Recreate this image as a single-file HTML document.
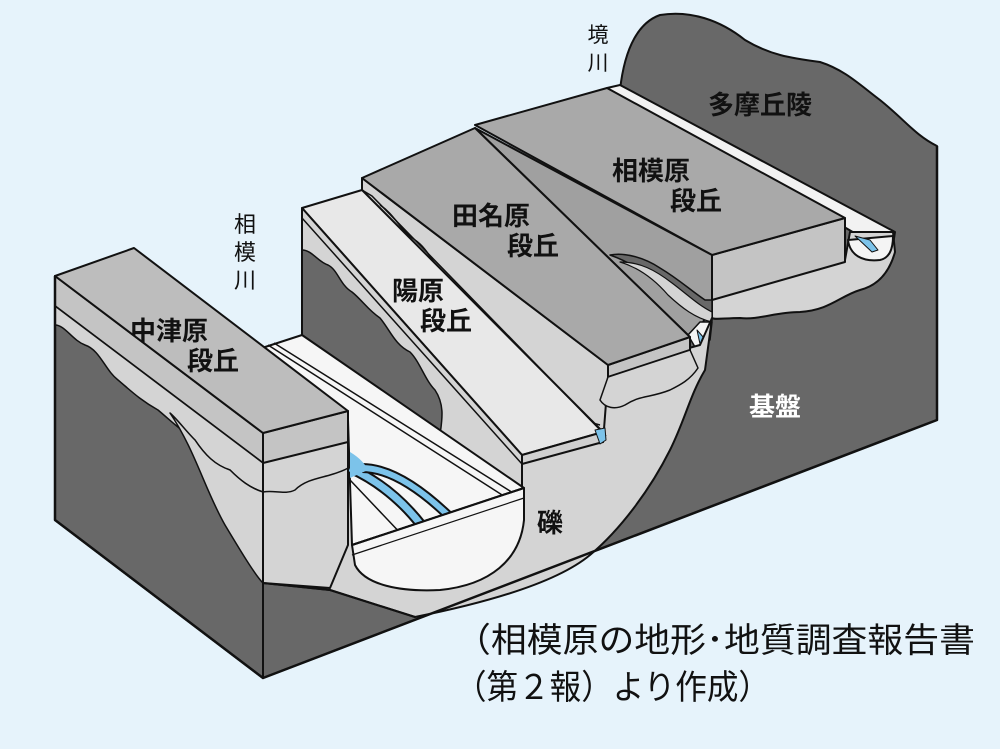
<!DOCTYPE html>
<html><head><meta charset="utf-8"><style>
html,body{margin:0;padding:0;background:#e6f3fb;}
svg{display:block}
text{font-family:"Liberation Sans","Noto Sans CJK JP",sans-serif;}
</style></head><body>
<svg width="1000" height="749" viewBox="0 0 1000 749" xmlns="http://www.w3.org/2000/svg" stroke="#111" stroke-width="2" stroke-linejoin="round">
<rect x="0" y="0" width="1000" height="749" fill="#e6f3fb" stroke="none"/>
<!-- dark base incl. Tama hills -->
<path d="M55,324 L55,520 L263,678 L937,420 L937,146 C915,135 905,120 880,100 C860,85 845,70 820,62 C790,58 770,55 745,40 C720,20 690,10 660,15 C640,22 625,45 620,90 L600,95 L560,540 Z" fill="#686868"/>
<!-- Sakai river strip -->
<path d="M607,88 L620,85 L895,232 L893,245 L880,248 Z" fill="#f2f2f2"/>
<!-- gravel under Sagamihara front + Sakai valley -->
<path d="M712,298 L845,260 L850,232 L893,232 L895,252 C890,270 880,285 860,290 C840,296 830,310 800,312 C775,312 760,320 740,318 C725,318 715,320 712,318 Z" fill="#d4d4d4"/>
<path d="M848,240 C850,255 862,262 880,260 C890,258 893,248 893,236 Z" fill="#f4f4f4"/>
<path d="M855,236 L870,240 L878,250 L872,252 Z" fill="#7cc3ea" stroke-width="1"/>
<!-- Sagamihara terrace -->
<path d="M712,255 L845,218 L845,262 L712,300 Z" fill="#c4c4c4"/>
<path d="M475,125 L607,88 L845,218 L712,255 Z" fill="#a9a9a9"/>
<!-- scarp strip between Tanabara and Sagamihara -->
<path d="M475,128 L712,255 L712,300 L700,330 L690,337 Z" fill="#a0a0a0"/>
<path d="M610,255 C630,262 650,275 665,290 C680,305 695,315 712,318 L712,300 L705,300 C690,290 680,280 660,268 C645,258 625,252 610,255 Z" fill="#686868" stroke-width="1.5"/>
<path d="M620,262 C640,268 655,280 668,295 C682,308 695,318 712,322 L712,312 C698,305 688,295 672,283 C655,270 640,262 620,262 Z" fill="#d4d4d4" stroke-width="1.2"/>
<path d="M688,335 L700,322 L712,322 L710,340 L695,347 Z" fill="#f4f4f4" stroke-width="1.5"/>
<path d="M697,330 L704,338 L700,344 Z" fill="#7cc3ea" stroke-width="1"/>
<!-- big gravel on front face right-middle -->
<path d="M520,460 L608,370 L700,345 L712,318 L705,370 C690,395 685,420 670,450 C650,490 620,530 590,555 C560,580 500,600 415,617 L330,590 L263,583 L263,463 Z" fill="#d4d4d4"/>
<!-- Tanabara left scarp face (gravel) -->
<path d="M362,178 L608,365 L608,377 L603,442 L362,190 Z" fill="#d4d4d4"/>
<path d="M380,205 C395,215 400,230 415,240 C430,250 435,270 450,280 C465,292 470,310 485,320 C500,332 505,350 520,360 C535,372 540,390 555,400 C570,410 580,420 600,425" fill="none" stroke-width="1.5"/>
<!-- Tanabara terrace -->
<path d="M608,365 L690,337 L690,350 L608,377 Z" fill="#c4c4c4"/>
<path d="M362,178 L475,128 L690,337 L608,365 Z" fill="#a9a9a9"/>
<path d="M608,377 L690,350 L698,368 C690,380 680,385 670,390 C650,398 640,395 625,405 C615,410 605,408 600,400 Z" fill="#d4d4d4" stroke-width="1.5"/>
<!-- Minbara terrace -->
<path d="M302,208 L362,190 L603,432 L522,455 Z" fill="#e8e8e8"/>
<path d="M362,190 L372,196 L606,436" fill="none" stroke-width="1.5"/>
<path d="M522,455 L603,432 L603,442 L522,464 Z" fill="#d0d0d0"/>
<path d="M595,430 L605,428 L606,440 L600,444 Z" fill="#7cc3ea" stroke-width="1"/>
<!-- left wall of Minbara block -->
<path d="M302,208 L522,455 L522,490 L302,335 Z" fill="#d4d4d4"/>
<path d="M302,218 L522,464" fill="none" stroke-width="1.5"/>
<path d="M302,250 C312,250 318,262 328,265 C338,270 340,285 352,292 C362,300 368,310 380,318 C390,330 395,345 410,352 C420,362 425,380 435,390 C445,405 442,420 440,435 L302,335 Z" fill="#686868" stroke-width="1.5"/>
<!-- Sagami river valley floor -->
<path d="M262,348 L302,335 L524,488 L352,545 L348,420 Z" fill="#f6f6f6"/>
<path d="M268,345 L510,500" fill="none" stroke-width="1.5"/>
<path d="M274,343 L518,496" fill="none" stroke-width="1.5"/>
<path d="M350,480 L405,538" fill="none" stroke-width="1.5"/>
<path d="M350,468 C372,478 398,495 422,526" fill="none" stroke="#111" stroke-width="11" stroke-linecap="butt"/>
<path d="M350,468 C372,478 398,495 422,526" fill="none" stroke="#7cc3ea" stroke-width="7"/>
<path d="M362,468 C392,468 425,492 455,522" fill="none" stroke="#111" stroke-width="10"/>
<path d="M362,468 C392,468 425,492 455,522" fill="none" stroke="#7cc3ea" stroke-width="6"/>
<path d="M350,452 C360,458 365,464 368,470 L350,478 Z" fill="#7cc3ea" stroke="none"/>
<!-- U white on front face -->
<path d="M352,545 L524,488 L524,520 C520,560 490,585 440,590 C400,592 365,585 355,565 Z" fill="#f6f6f6"/>
<path d="M352,545 L524,488" fill="none" stroke-width="2"/>
<path d="M352,555 L524,498" fill="none" stroke-width="1.2"/>
<!-- left block: left face -->
<path d="M55,276 L263,433 L263,678 L55,520 Z" fill="#686868"/>
<path d="M55,276 L263,433 L263,463 L55,306 Z" fill="#c4c4c4"/>
<path d="M55,306 L263,463 L263,492 C250,488 240,480 230,470 C215,465 205,455 195,440 C180,430 170,420 158,410 C140,400 130,390 118,380 C105,370 100,350 85,345 C72,340 65,325 55,325 Z" fill="#d4d4d4" stroke-width="1.5"/>
<path d="M170,413 C195,450 205,490 225,525 C240,550 255,575 263,583 L263,492 C250,488 240,480 230,470 C215,465 205,455 195,440 C185,430 178,420 170,413 Z" fill="#d4d4d4" stroke-width="1.5"/>
<!-- left block front face -->
<path d="M263,433 L348,411 L348,545 L330,588 L263,583 Z" fill="#d4d4d4"/>
<path d="M263,433 L348,411 L348,442 L263,463 Z" fill="#c4c4c4"/>
<path d="M263,492 C275,490 285,495 295,490 C305,480 320,478 330,475 C340,472 345,470 348,468" fill="none" stroke-width="1.5"/>
<path d="M263,583 L330,590 L415,617" fill="none" stroke-width="2"/>
<!-- left block top -->
<path d="M55,276 L134,248 L348,411 L263,433 Z" fill="#bdbdbd"/>
<!-- outline edges -->
<path d="M55,276 L55,520 L263,678 L937,420 L937,146" fill="none" stroke-width="2.5"/>
<path d="M263,433 L263,678" fill="none" stroke-width="2"/>
<path d="M302,208 L302,335" fill="none" stroke-width="2"/>
<!-- labels -->
<g stroke="none" fill="#111">
<text x="598" y="42" font-size="21" text-anchor="middle">境</text>
<text x="598" y="70" font-size="21" text-anchor="middle">川</text>
<text x="245" y="232" font-size="22" text-anchor="middle">相</text>
<text x="245" y="260" font-size="22" text-anchor="middle">模</text>
<text x="245" y="288" font-size="22" text-anchor="middle">川</text>
<g font-weight="bold" font-size="26">
<text x="708" y="114">多摩丘陵</text>
<text x="612" y="180">相模原</text>
<text x="670" y="210">段丘</text>
<text x="452" y="225">田名原</text>
<text x="507" y="255">段丘</text>
<text x="392" y="300">陽原</text>
<text x="420" y="330">段丘</text>
<text x="130" y="340">中津原</text>
<text x="187" y="370">段丘</text>
<text x="537" y="532">礫</text>
<text x="749" y="416" fill="#fff">基盤</text>
</g>
<text x="455" y="652" font-size="34" textLength="520" lengthAdjust="spacingAndGlyphs">（相模原の地形･地質調査報告書</text>
<text x="455" y="699" font-size="34" textLength="315" lengthAdjust="spacingAndGlyphs">（第２報）より作成）</text>
</g>
</svg>
</body></html>
